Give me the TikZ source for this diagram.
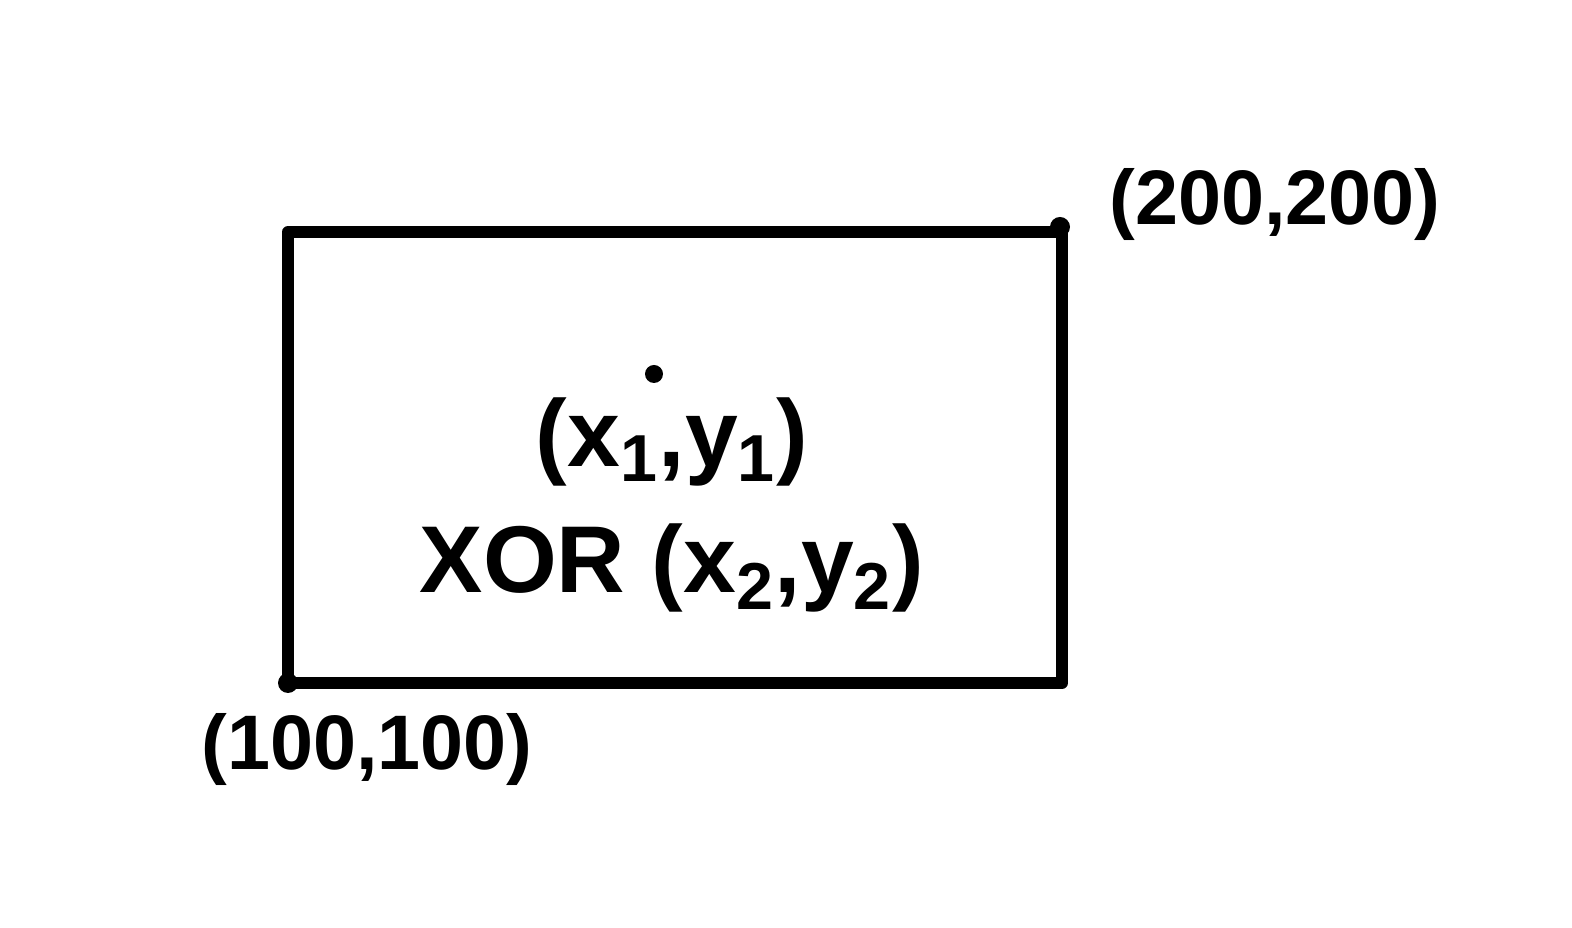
\documentclass[tikz,border=0pt]{standalone}
\usepackage{fontspec}
\setsansfont{Liberation Sans}
\usetikzlibrary{positioning}

\begin{document}
\begin{tikzpicture}[x=1cm,y=1cm,
  edge/.style={draw=black,line width=3.4pt,line join=round,line cap=round},
  corner/.style={fill=black},
  coord/.style={font=\sffamily\bfseries\fontsize{22}{26}\selectfont},
  formula/.style={font=\sffamily\bfseries\fontsize{27}{36}\selectfont,align=center}]

% Page frame, same proportions as the sketch.
\useasboundingbox (0,0) rectangle (15.72,9.28);

% The box and its two corners.
\coordinate (bl) at (2.88,2.45);
\coordinate (tr) at (10.62,6.96);
\draw[edge] (bl) rectangle (tr);
\fill[corner] (bl) circle (.1);
\fill[corner] (tr) ++(-.02,.05) circle (.1);

% Corner labels.
\node[coord] (bllabel) at (3.67,1.78) {(100,100)};
\node[coord] (trlabel) at (12.75,7.23) {(200,200)};

% Condition written inside the box.
\node[formula] (cond) at (6.72,4.23)
  {(x\textsubscript{1},y\textsubscript{1})\\XOR (x\textsubscript{2},y\textsubscript{2})};
\fill[corner] (6.54,5.54) circle (.09);
\end{tikzpicture}
\end{document}
